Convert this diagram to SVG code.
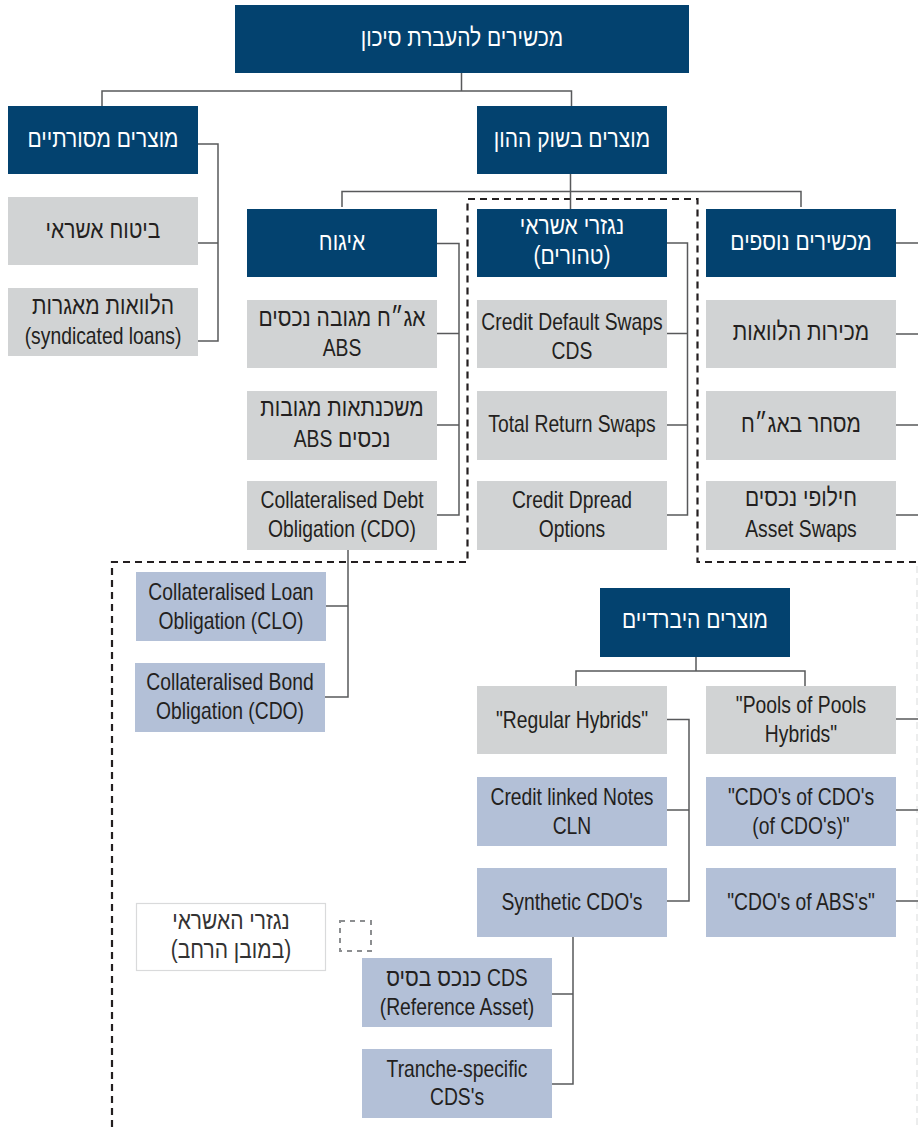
<svg xmlns="http://www.w3.org/2000/svg" width="918" height="1127" viewBox="0 0 918 1127">
<style>
text{font-family:"Liberation Sans","DejaVu Sans",sans-serif;font-size:23px;text-anchor:middle;fill:#231F20;transform-box:fill-box;transform-origin:center;transform:scaleX(0.84)}
.he{direction:rtl;font-size:25px}
.en{font-size:23px}
.tw{fill:#fff}
.nv{fill:#03426F}
.gr{fill:#D1D3D4}
.bl{fill:#B3C0D7}
.cn{stroke:#58595B;stroke-width:1.5;fill:none}
.ds{stroke:#231F20;stroke-width:2.2;stroke-dasharray:7 5;fill:none}
</style>
<rect width="918" height="1127" fill="#fff"/>
<g id="outline">
<path class="ds" d="M112,1127 V562 H467.5 V199 H697.5 V562 H918"/>
<path d="M917,566 V1127" stroke="#E6E7E8" stroke-width="1.5" stroke-dasharray="7 5" fill="none"/>
</g>
<g id="connectors">
<path class="cn" d="M461.5,73 V91 M102,106 V91 H571.5 V106"/>
<path class="cn" d="M198,144 H218 V341 H198 M198,243 H218"/>
<path class="cn" d="M570.5,174 V209 M342,207 V191.5 H801 V207"/>
<path class="cn" d="M437,243.5 H459 V515 H437 M437,333.5 H459 M437,425 H459"/>
<path class="cn" d="M667,243 H687.5 V515 H667 M667,333.5 H687.5 M667,425 H687.5"/>
<path class="cn" d="M896,243 H918 M896,334 H918 M896,425 H918 M896,515 H918"/>
<path class="cn" d="M348,550 V697 H325 M326,606 H348"/>
<path class="cn" d="M696,657 V671 M576,686 V671 H805 V686"/>
<path class="cn" d="M667,719.5 H689 V901 H667 M667,810 H689"/>
<path class="cn" d="M896,719 H918 M896,810 H918 M896,901 H918"/>
<path class="cn" d="M573,937 V1084 H552 M552,994 H573"/>
</g>
<g id="n-root"><rect class="nv" x="235" y="5" width="454" height="68"/><text class="tw he" x="462" y="46">מכשירים להעברת סיכון</text></g>
<g id="n-traditional"><rect class="nv" x="8" y="106" width="190" height="68"/><text class="tw he" x="103" y="147">מוצרים מסורתיים</text></g>
<g id="n-capital"><rect class="nv" x="477" y="106" width="190" height="68"/><text class="tw he" x="572" y="147">מוצרים בשוק ההון</text></g>
<g id="n-insurance"><rect class="gr" x="8" y="197" width="190" height="68"/><text class="he" x="103" y="238">ביטוח אשראי</text></g>
<g id="n-syndicated"><rect class="gr" x="8" y="288" width="190" height="68"/><text class="he" x="103" y="314">הלוואות מאגרות</text><text x="103" y="344">(syndicated loans)</text></g>
<g id="n-securitization"><rect class="nv" x="247" y="209" width="190" height="68"/><text class="tw he" x="342" y="250">איגוח</text></g>
<g id="n-credit-deriv"><rect class="nv" x="477" y="209" width="190" height="68"/><text class="tw he" x="572" y="234">נגזרי אשראי</text><text class="tw he" x="572" y="264">(טהורים)</text></g>
<g id="n-additional"><rect class="nv" x="706" y="209" width="190" height="68"/><text class="tw he" x="801" y="250">מכשירים נוספים</text></g>
<g id="n-abs"><rect class="gr" x="247" y="300" width="190" height="68"/><text class="he" x="342" y="326">אג״ח מגובה נכסים</text><text x="342" y="356">ABS</text></g>
<g id="n-cds"><rect class="gr" x="477" y="300" width="190" height="68"/><text x="572" y="330">Credit Default Swaps</text><text x="572" y="359">CDS</text></g>
<g id="n-loansale"><rect class="gr" x="706" y="300" width="190" height="68"/><text class="he" x="801" y="340">מכירות הלוואות</text></g>
<g id="n-mbs"><rect class="gr" x="247" y="391" width="190" height="69"/><text class="he" x="342" y="416">משכנתאות מגובות</text><text class="he" x="342" y="447">נכסים <tspan class="en">ABS</tspan></text></g>
<g id="n-trs"><rect class="gr" x="477" y="391" width="190" height="69"/><text x="572" y="432">Total Return Swaps</text></g>
<g id="n-bondtrade"><rect class="gr" x="706" y="391" width="190" height="69"/><text class="he" x="801" y="432">מסחר באג״ח</text></g>
<g id="n-cdo"><rect class="gr" x="247" y="481" width="190" height="69"/><text x="342" y="508">Collateralised Debt</text><text x="342" y="537">Obligation (CDO)</text></g>
<g id="n-cso"><rect class="gr" x="477" y="481" width="190" height="69"/><text x="572" y="508">Credit Dpread</text><text x="572" y="537">Options</text></g>
<g id="n-assetswaps"><rect class="gr" x="706" y="481" width="190" height="69"/><text class="he" x="801" y="506">חילופי נכסים</text><text x="801" y="537">Asset Swaps</text></g>
<g id="n-clo"><rect class="bl" x="136" y="572" width="190" height="69"/><text x="231" y="600">Collateralised Loan</text><text x="231" y="629">Obligation (CLO)</text></g>
<g id="n-cbo"><rect class="bl" x="135" y="663" width="190" height="69"/><text x="230" y="690">Collateralised Bond</text><text x="230" y="719">Obligation (CDO)</text></g>
<g id="n-hybrid"><rect class="nv" x="600" y="588" width="190" height="69"/><text class="tw he" x="695" y="628">מוצרים היברדיים</text></g>
<g id="n-regular"><rect class="gr" x="477" y="686" width="190" height="68"/><text x="572" y="728">"Regular Hybrids"</text></g>
<g id="n-pools"><rect class="gr" x="706" y="686" width="190" height="68"/><text x="801" y="713">"Pools of Pools</text><text x="801" y="742">Hybrids"</text></g>
<g id="n-cln"><rect class="bl" x="477" y="777" width="190" height="69"/><text x="572" y="805">Credit linked Notes</text><text x="572" y="834">CLN</text></g>
<g id="n-cdo2"><rect class="bl" x="706" y="777" width="190" height="69"/><text x="801" y="805">"CDO's of CDO's</text><text x="801" y="834">(of CDO's)"</text></g>
<g id="n-synth"><rect class="bl" x="477" y="868" width="190" height="69"/><text x="572" y="910">Synthetic CDO's</text></g>
<g id="n-cdoabs"><rect class="bl" x="706" y="868" width="190" height="69"/><text x="801" y="910">"CDO's of ABS's"</text></g>
<g id="n-refasset"><rect class="bl" x="362" y="958" width="190" height="69"/><text class="he" x="457" y="986"><tspan class="en">CDS</tspan> כנכס בסיס</text><text x="457" y="1015">(Reference Asset)</text></g>
<g id="n-tranche"><rect class="bl" x="362" y="1049" width="190" height="69"/><text x="457" y="1077">Tranche-specific</text><text x="457" y="1105">CDS's</text></g>
<g id="legend">
<rect x="136.5" y="903.5" width="189" height="67" fill="#fff" stroke="#D9DADB" stroke-width="1.2"/>
<text class="he" x="231" y="929" style="fill:#333">נגזרי האשראי</text>
<text class="he" x="231" y="958" style="fill:#333">(במובן הרחב)</text>
<rect x="340" y="921" width="31" height="30" fill="none" stroke="#8C8E90" stroke-width="2" stroke-dasharray="5 5"/>
</g>
</svg>
